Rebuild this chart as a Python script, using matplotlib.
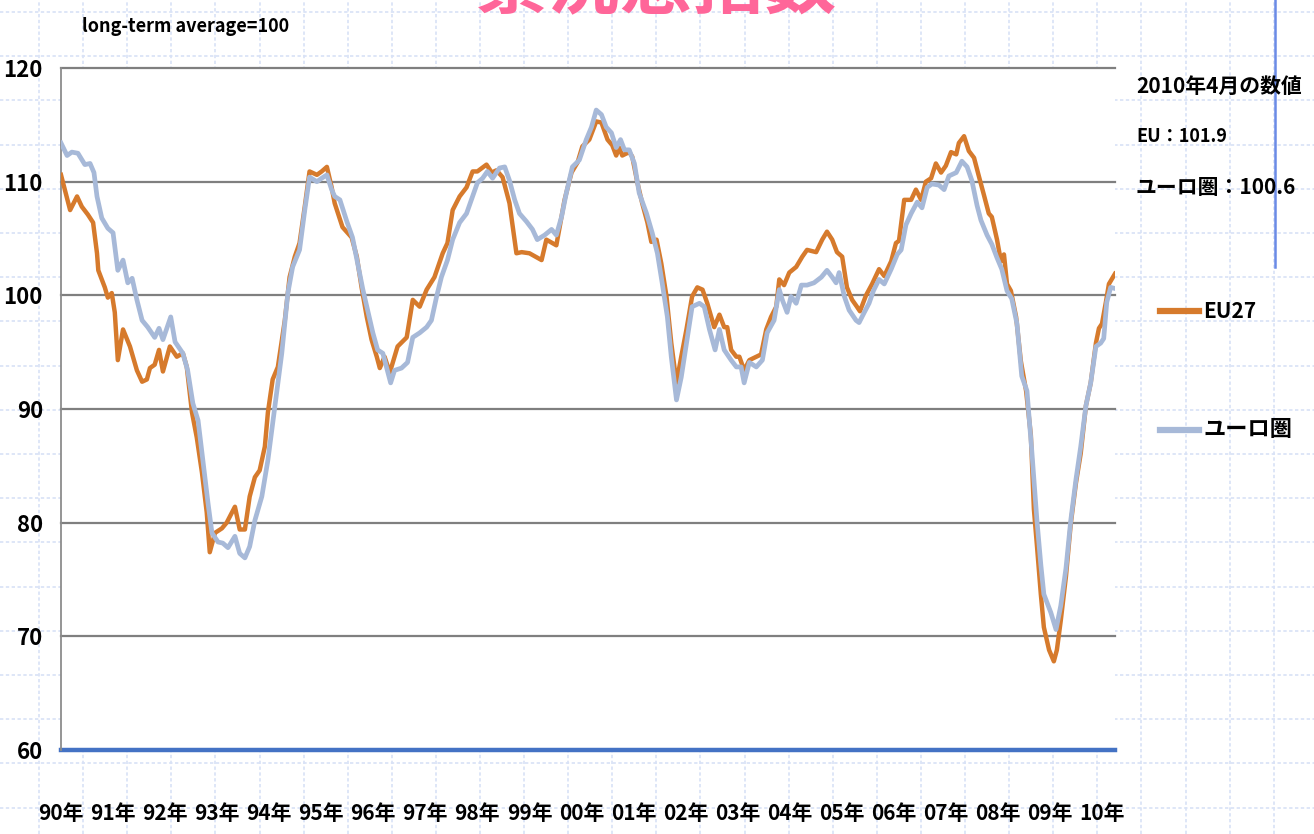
import matplotlib
matplotlib.use("Agg")
import matplotlib.pyplot as plt
from matplotlib.lines import Line2D
import numpy as np

plt.rcParams['font.family'] = ['Noto Sans CJK JP', 'DejaVu Sans']
plt.rcParams['font.weight'] = 'bold'

# months since Jan 1990, index values (long-term average = 100)
eu_m = [0, 2.1, 3.7, 4.8, 6.2, 7.4, 8.3, 8.6, 10.1, 10.8, 11.7, 12.4, 13.1, 14.3, 15.9,
        17.5, 18.7, 19.8, 20.5, 21.6, 22.6, 23.5, 25.1, 26.7, 28.1, 29.0, 30.2, 31.3,
        32.5, 33.6, 34.3, 35.5, 37.1, 38.2, 40.1, 41.2, 42.4, 43.5, 44.7, 45.8, 47.0,
        47.7, 48.8, 50.0, 51.6, 52.7, 53.9, 55.0, 56.2, 57.3, 59.0, 60.1, 61.3, 62.4,
        63.1, 64.9, 67.0, 68.2, 69.3, 70.5, 71.6, 72.8, 73.5, 74.6, 75.8, 77.6, 79.7,
        81.1, 82.7, 84.3, 86.1, 88.0, 89.1, 90.3, 91.9, 93.5, 94.9, 96.0, 98.1, 99.3,
        100.4, 101.8, 103.4, 105.0, 106.2, 108.0, 110.8, 111.9, 113.3, 114.2, 116.1,
        117.7, 119.1, 120.2, 121.8, 123.4, 124.6, 126.0, 127.1, 128.0, 128.7, 129.4,
        131.0, 131.7, 132.9, 134.0, 135.2, 136.1, 137.3, 138.4, 139.6, 140.7, 141.9,
        143.0, 144.2, 145.5, 146.7, 147.9, 149.0, 150.6, 151.8, 152.9, 153.6, 154.5,
        155.7, 156.4, 157.5, 158.7, 160.3, 161.4, 162.6, 163.7, 164.9, 165.6, 166.7,
        167.9, 169.5, 170.9, 172.0, 174.1, 175.5, 176.6, 177.8, 178.9, 180.1, 181.2,
        182.4, 183.5, 184.2, 185.6, 187.0, 188.6, 189.8, 191.4, 192.5, 193.2, 194.4,
        196.0, 197.1, 198.3, 199.4, 200.6, 201.7, 202.9, 204.0, 205.2, 206.4, 207.0,
        208.2, 209.3, 210.5, 211.6, 212.8, 213.9, 214.6, 215.8, 216.7, 217.4, 218.1,
        219.0, 220.2, 221.3, 222.5, 223.6, 224.3, 225.0, 225.9, 226.6, 227.8, 228.9,
        229.6, 230.5, 231.7, 232.8, 234.0, 235.1, 236.3, 237.4, 238.6, 239.3, 240.0,
        240.9, 241.6, 243]
eu_v = [110.6, 107.5, 108.7, 107.8, 107.1, 106.4, 103.7, 102.2, 100.7, 99.8, 100.2, 98.5,
        94.3, 97.0, 95.5, 93.4, 92.4, 92.6, 93.6, 93.9, 95.2, 93.3, 95.5, 94.6, 94.9,
        93.7, 89.7, 87.5, 84.4, 80.9, 77.4, 79.1, 79.5, 80.0, 81.4, 79.4, 79.4, 82.3,
        84.0, 84.6, 86.7, 89.7, 92.6, 93.7, 97.8, 101.6, 103.4, 104.6, 107.8, 110.9,
        110.6, 110.9, 111.3, 109.5, 108.1, 106.0, 105.1, 103.4, 100.7, 98.1, 96.1, 94.6,
        93.6, 94.6, 93.2, 95.5, 96.3, 99.6, 99.0, 100.5, 101.6, 103.7, 104.6, 107.5,
        108.7, 109.5, 110.9, 110.9, 111.5, 110.8, 111.0, 110.4, 108.1, 103.7, 103.8,
        103.7, 103.1, 104.9, 104.6, 104.4, 108.4, 110.8, 111.7, 113.1, 113.7, 115.3,
        115.2, 113.7, 113.2, 112.3, 113.0, 112.3, 112.6, 112.2, 109.9, 108.1, 106.4,
        104.7, 104.9, 102.8, 99.9, 95.8, 92.3, 94.6, 97.0, 99.9, 100.7, 100.5, 99.3,
        97.2, 98.3, 97.2, 97.2, 95.2, 94.6, 94.6, 93.4, 94.3, 94.6, 94.8, 97.0, 98.1,
        99.0, 101.4, 100.9, 102.0, 102.5, 103.4, 104.0, 103.8, 104.9, 105.6, 104.9,
        103.8, 103.4, 100.7, 99.6, 99.0, 98.6, 100.0, 101.0, 102.3, 101.7, 103.0, 104.6,
        104.8, 108.4, 108.4, 109.3, 108.4, 110.0, 110.3, 111.6, 110.8, 111.4, 112.6,
        112.4, 113.4, 114.0, 112.7, 112.1, 110.5, 108.8, 107.2, 106.9, 104.9, 103.0,
        103.6, 101.0, 100.4, 98.1, 94.2, 91.6, 87.7, 81.2, 78.0, 73.7, 70.8, 68.8, 67.8,
        68.8, 71.4, 75.3, 79.9, 83.5, 86.1, 90.3, 92.3, 95.8, 97.1, 97.5, 99.4, 101.0,
        101.9]

ea_m = [0, 1.4, 2.5, 3.9, 5.5, 6.7, 7.6, 8.3, 9.4, 10.8, 12.0, 13.1, 14.3, 15.4, 16.4,
        17.5, 18.7, 20.0, 21.6, 22.6, 23.5, 25.3, 26.3, 28.1, 29.2, 30.4, 31.6, 32.7,
        33.9, 34.8, 36.2, 37.3, 38.5, 40.1, 41.2, 42.4, 43.5, 44.7, 46.3, 47.7, 49.3,
        50.9, 52.3, 53.4, 55.0, 56.2, 57.3, 59.0, 60.1, 61.3, 62.4, 63.1, 64.3, 65.9,
        67.2, 68.4, 69.6, 70.7, 71.9, 73.0, 74.2, 76.0, 76.9, 78.5, 79.9, 81.1, 82.7,
        84.3, 85.4, 86.6, 87.7, 89.1, 90.3, 91.9, 93.5, 94.9, 96.0, 97.2, 98.3, 99.5,
        101.1, 102.3, 103.4, 104.6, 105.7, 107.3, 108.7, 109.8, 111.5, 113.1, 114.2,
        115.4, 116.5, 117.9, 119.5, 121.1, 122.3, 123.4, 124.6, 125.7, 126.9, 128.0,
        129.0, 129.9, 131.0, 132.2, 133.3, 135.0, 136.3, 137.5, 138.6, 139.8, 140.7,
        141.9, 143.0, 144.2, 145.5, 147.2, 148.3, 149.5, 150.8, 151.8, 152.9, 154.5,
        155.7, 156.8, 157.5, 158.7, 160.3, 161.7, 162.8, 164.4, 165.6, 166.3, 167.4,
        168.3, 169.5, 170.7, 172.0, 173.6, 175.3, 176.6, 177.8, 178.7, 179.4, 180.6,
        181.7, 183.3, 184.0, 185.2, 186.3, 187.3, 188.6, 189.8, 191.4, 192.8, 193.7,
        194.8, 196.0, 197.4, 198.5, 199.7, 200.8, 202.4, 203.6, 204.7, 206.4, 207.7,
        208.9, 210.0, 211.2, 212.1, 213.5, 214.6, 215.8, 216.9, 218.1, 219.2, 220.4,
        221.5, 222.7, 223.8, 225.0, 225.9, 226.6, 228.2, 229.4, 230.5, 231.7, 232.8,
        234.0, 235.1, 236.3, 237.4, 238.6, 239.7, 240.4, 241.1, 242.0, 243]
ea_v = [113.4, 112.3, 112.6, 112.5, 111.5, 111.6, 110.8, 108.7, 106.8, 105.9, 105.5,
        102.2, 103.1, 101.1, 101.5, 99.6, 97.8, 97.2, 96.3, 97.1, 96.1, 98.1, 95.9, 94.9,
        93.4, 90.5, 89.0, 85.5, 81.7, 79.1, 78.3, 78.2, 77.8, 78.8, 77.3, 76.9, 77.9,
        80.2, 82.3, 85.5, 90.2, 94.9, 100.2, 102.5, 104.0, 107.5, 110.4, 110.0, 110.3,
        110.6, 109.3, 108.7, 108.4, 106.5, 105.1, 102.8, 100.5, 98.7, 96.7, 95.2, 94.9,
        92.3, 93.4, 93.6, 94.1, 96.3, 96.7, 97.2, 97.8, 99.9, 101.6, 103.1, 104.9, 106.4,
        107.2, 108.7, 109.9, 110.3, 110.9, 110.3, 111.2, 111.3, 110.1, 108.4, 107.2,
        106.5, 105.8, 104.9, 105.3, 105.8, 105.3, 106.9, 109.0, 111.3, 111.9, 113.7,
        114.8, 116.3, 115.9, 114.8, 114.3, 113.0, 113.7, 112.8, 112.8, 111.6, 109.0,
        107.2, 105.5, 103.7, 101.1, 98.1, 94.6, 90.8, 92.8, 95.8, 99.0, 99.3, 99.0, 97.0,
        95.2, 97.0, 95.2, 94.3, 93.7, 93.7, 92.3, 94.1, 93.7, 94.3, 96.7, 97.8, 100.5,
        99.6, 98.5, 99.9, 99.3, 100.9, 100.9, 101.1, 101.6, 102.2, 101.6, 101.1, 102.0,
        99.9, 98.7, 97.8, 97.6, 98.5, 99.3, 100.4, 101.4, 101.0, 102.3, 103.6, 104.0,
        106.2, 107.2, 108.2, 107.7, 109.5, 109.8, 109.7, 109.3, 110.5, 110.8, 111.8,
        111.3, 110.1, 107.9, 106.6, 105.3, 104.5, 103.3, 102.3, 100.4, 99.7, 97.5, 92.9,
        91.6, 86.4, 80.2, 76.3, 73.7, 72.1, 70.6, 72.7, 76.0, 80.2, 83.8, 86.7, 90.3,
        92.3, 95.5, 95.8, 96.2, 99.4, 100.7, 100.6]

year_ticks = list(range(0, 241, 12))
year_labels = ['90年', '91年', '92年', '93年', '94年', '95年', '96年', '97年', '98年', '99年',
               '00年', '01年', '02年', '03年', '04年', '05年', '06年', '07年', '08年', '09年', '10年']
y_levels = [60, 70, 80, 90, 100, 110, 120]

eu_color = '#D67A2C'
ea_color = '#A7B9D8'

W, H = 1314, 834
fig = plt.figure(figsize=(W / 100, H / 100), dpi=100)
fig.patch.set_facecolor('white')

# faint squared paper behind everything
for gx in np.arange(39, W, 44.1):
    fig.add_artist(Line2D([gx / W, gx / W], [0, 1], transform=fig.transFigure,
                          color='#d8e2f6', lw=1.2, ls=(0, (2, 1.5)), zorder=-5))
for gy in np.arange(12, H, 44.2):
    fig.add_artist(Line2D([0, 1], [1 - gy / H, 1 - gy / H], transform=fig.transFigure,
                          color='#d8e2f6', lw=1.2, ls=(0, (2, 1.5)), zorder=-5))

ax = fig.add_axes([61 / W, 1 - 750 / H, (1115 - 61) / W, (750 - 68) / H])
ax.set_facecolor('white')
ax.set_xlim(0, 243)
ax.set_ylim(60, 120)

for lv in y_levels[1:]:
    ax.axhline(lv, color='#7f7f7f', lw=1.6, zorder=1, clip_on=False)
ax.axhline(60, color='#4472C4', lw=3.2, zorder=1, clip_on=False)

ax.plot(eu_m, eu_v, color=eu_color, lw=3.2, solid_joinstyle='round', zorder=3)
ax.plot(ea_m, ea_v, color=ea_color, lw=3.4, solid_joinstyle='round', zorder=4)

for s in ['top', 'right', 'bottom']:
    ax.spines[s].set_visible(False)
ax.spines['left'].set_color('#8c8c8c')
ax.spines['left'].set_linewidth(1.3)

ax.set_yticks(y_levels)
ax.set_yticklabels([str(v) for v in y_levels], fontsize=16, fontweight='bold')
ax.set_xticks(year_ticks)
ax.set_xticklabels(year_labels, fontsize=15, fontweight='bold')
ax.tick_params(axis='y', length=0, pad=13)
ax.tick_params(axis='x', length=0, pad=38)

def px(x, y):
    return x / W, 1 - y / H

# title, running off the top edge
fig.text(*px(657, 8), '景況感指数', fontsize=52, color='#FF6699', fontweight='bold',
         ha='center', va='baseline')

fig.text(*px(82, 27), 'long-term average=100', fontsize=13, fontweight='bold',
         ha='left', va='center')

fig.text(*px(1136, 86), '2010年4月の数値', fontsize=15, fontweight='bold', ha='left', va='center')
fig.text(*px(1136, 136), 'EU：101.9', fontsize=13, fontweight='bold', ha='left', va='center')
fig.text(*px(1136, 188), 'ユーロ圏：100.6', fontsize=15, fontweight='bold', ha='left', va='center')

# legend
fig.add_artist(Line2D([1160 / W, 1199 / W], [1 - 311 / H] * 2, transform=fig.transFigure,
                      color=eu_color, lw=4.5))
fig.text(*px(1203, 311), 'EU27', fontsize=15, fontweight='bold', ha='left', va='center')
fig.add_artist(Line2D([1160 / W, 1199 / W], [1 - 430 / H] * 2, transform=fig.transFigure,
                      color=ea_color, lw=4.5))
fig.text(*px(1203, 430), 'ユーロ圏', fontsize=16, fontweight='bold', ha='left', va='center')

# slide decoration on the right edge
fig.add_artist(Line2D([1275 / W, 1275 / W], [1, 1 - 267 / H], transform=fig.transFigure,
                      color='#6b8be6', lw=1.8))

fig.savefig('out.png', dpi=100)
